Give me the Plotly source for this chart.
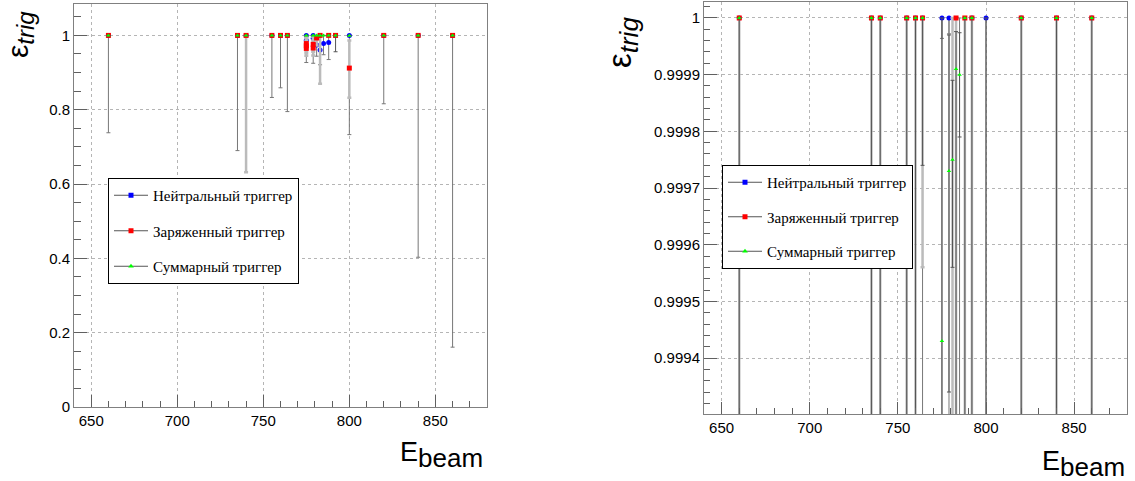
import plotly.graph_objects as go

# ---------------- data ----------------
E_neu = [660, 735, 740, 755, 760, 764, 775, 775, 779, 779, 781, 783, 785, 788, 792, 800, 820, 840, 860]
eff_neu = [1, 1, 1, 1, 1, 1, 1, 0.987, 1, 0.992, 0.974, 0.961, 0.978, 0.981, 1, 1, 1, 1, 1]
lo_neu = [0.262, 0.31, 0.0008, 0.167, 0.141, 0.205, 0.000036, 0.06, 0.000028, 0.067, 0.03, 0.04, 0.03,
          0.046, 0.0008, 0.267, 0.184, 0.597, 0.839]
hi_neu = [0, 0, 0, 0, 0, 0, 0, 0.013, 0, 0.008, 0.026, 0.039, 0.022, 0.019, 0, 0, 0, 0, 0]

E_chg = [660, 735, 740, 755, 760, 764, 775, 775, 775, 779, 779, 781, 783, 788, 792, 800, 820, 840, 860]
eff_chg = [1, 1, 1, 1, 1, 1, 0.965, 0.972, 0.978, 0.966, 0.976, 0.993, 1, 1, 1, 0.912, 1, 1, 1]
lo_chg = [0.0008, 0.0009, 0.368, 0.0008, 0.0008, 0.00044, 0.02, 0.02, 0.02, 0.02, 0.02, 0.02, 0.13,
          0.0008, 0.0008, 0.08, 0.0008, 0.0008, 0.0008]
hi_chg = [0, 0, 0, 0, 0, 0, 0.02, 0.02, 0.02, 0.02, 0.02, 0.007, 0, 0, 0, 0.074, 0, 0, 0]

E_tot = [660, 735, 740, 755, 760, 764, 775, 779, 781, 783, 785, 788, 792, 800, 820, 840, 860]
eff_tot = [1, 1, 1, 1, 1, 1, 0.99943, 0.99973, 0.99975, 0.99991, 0.9999, 1, 1, 0.9988, 1, 1, 1]
lo_tot = [0.0008, 0.0008, 0.0008, 0.0008, 0.0008, 0.00026, 0.0006, 0.00039, 0.00019, 0.0008, 0.00011,
          0.0008, 0.044, 0.001, 0.0008, 0.0008, 0.0008]
hi_tot = [0, 0, 0, 0, 0, 0, 0.00057, 0.00024, 0.00014, 0.000066, 0.000074, 0, 0, 0.0012, 0, 0, 0]

names = ["Нейтральный триггер", "Заряженный триггер", "Суммарный триггер"]

x_ticks = [650, 700, 750, 800, 850]
x_ticktext = ["650", "700", "750", "800", "850"]
yL_ticks = [0, 0.2, 0.4, 0.6, 0.8, 1]
yL_ticktext = ["0", "0.2", "0.4", "0.6", "0.8", "1"]
yR_ticks = [0.9994, 0.9995, 0.9996, 0.9997, 0.9998, 0.9999, 1.0]
yR_ticktext = ["0.9994", "0.9995", "0.9996", "0.9997", "0.9998", "0.9999", "1"]

# ---------------- styles ----------------
W, H = 1135, 481
BLUE, RED, GREEN = "#0000ff", "#ff0000", "#00ff00"
series = [
    (E_neu, eff_neu, lo_neu, hi_neu, BLUE, "circle", 5, "#777777", 1),
    (E_chg, eff_chg, lo_chg, hi_chg, RED, "square", 5, "#bbbbbb", 2.5),
    (E_tot, eff_tot, lo_tot, hi_tot, GREEN, "triangle-up", 4, "#555555", 1),
]

fig = go.Figure()
for xa, ya in [("x", "y"), ("x2", "y2")]:
    for (ex, ey, lo, hi, col, sym, sz, ecol, ew) in series:
        fig.add_trace(go.Scatter(
            x=ex, y=ey, mode="markers", xaxis=xa, yaxis=ya, showlegend=False,
            marker=dict(color=col, symbol=sym, size=sz, line=dict(width=0)),
            error_y=dict(type="data", symmetric=False, array=hi, arrayminus=lo,
                         color=ecol, thickness=ew, width=2),
            cliponaxis=True,
        ))

# legend entries
for leg in ["legend", "legend2"]:
    for i, (ex, ey, lo, hi, col, sym, sz, ecol, ew) in enumerate(series):
        fig.add_trace(go.Scatter(
            x=[None], y=[None], mode="lines+markers", name=names[i],
            xaxis="x" if leg == "legend" else "x2", yaxis="y" if leg == "legend" else "y2",
            line=dict(color="#555555", width=1),
            marker=dict(color=col, symbol="square" if i < 2 else "triangle-up", size=5),
            legend=leg, legendgroup=leg + str(i), showlegend=True,
        ))


def px_x(p):
    return p / W


def px_y(p):
    return 1 - p / H


axis_common = dict(
    showline=True, mirror=True, linecolor="#808080", linewidth=1,
    ticks="inside", tickcolor="#606060", tickwidth=1,
    showgrid=True, griddash="dot", gridcolor="#b5b5b5", gridwidth=1,
    zeroline=False, automargin=False,
    tickfont=dict(family="Liberation Sans", size=15, color="black"),
)

fig.update_layout(
    width=W, height=H, margin=dict(l=0, r=0, t=0, b=0, pad=0, autoexpand=False),
    paper_bgcolor="white", plot_bgcolor="white",
    xaxis=dict(domain=[px_x(74), px_x(487)], range=[640, 880], anchor="y",
               tickvals=x_ticks, ticktext=x_ticktext, ticklen=12,
               minor=dict(dtick=10, tick0=0, ticks="inside", ticklen=6, tickcolor="#606060", showgrid=False),
               **axis_common),
    yaxis=dict(domain=[px_y(407), px_y(4)], range=[0, 1.0845], anchor="x",
               tickvals=yL_ticks, ticktext=yL_ticktext, ticklen=13,
               minor=dict(dtick=0.05, tick0=0, ticks="inside", ticklen=7, tickcolor="#606060", showgrid=False),
               **axis_common),
    xaxis2=dict(domain=[px_x(704), px_x(1127)], range=[640, 880], anchor="y2",
                tickvals=x_ticks, ticktext=x_ticktext, ticklen=12,
                minor=dict(dtick=10, tick0=0, ticks="inside", ticklen=6, tickcolor="#606060", showgrid=False),
                **axis_common),
    yaxis2=dict(domain=[px_y(414), px_y(2)], range=[0.9993012, 1.0000282], anchor="x2",
                tickvals=yR_ticks, ticktext=yR_ticktext, ticklen=13,
                minor=dict(dtick=0.00002, tick0=0.9994, ticks="inside", ticklen=6, tickcolor="#606060", showgrid=False),
                **axis_common),
    legend=dict(x=px_x(108), y=px_y(178), xanchor="left", yanchor="top",
                bordercolor="black", borderwidth=1, bgcolor="white",
                font=dict(family="Liberation Serif", size=15, color="black"),
                tracegroupgap=13, itemwidth=34),
    legend2=dict(x=px_x(722), y=px_y(165), xanchor="left", yanchor="top",
                 bordercolor="black", borderwidth=1, bgcolor="white",
                 font=dict(family="Liberation Serif", size=15, color="black"),
                 tracegroupgap=12, itemwidth=34),
)

title_font = dict(family="Liberation Sans", size=27, color="black")
annots = [
    dict(text='E<sub><span style="font-size:26px">beam</span></sub>', x=px_x(485), y=px_y(455),
         xanchor="right", yanchor="middle"),
    dict(text='E<sub><span style="font-size:26px">beam</span></sub>', x=px_x(1127), y=px_y(464),
         xanchor="right", yanchor="middle"),
]
for a in annots:
    fig.add_annotation(xref="paper", yref="paper", showarrow=False, font=title_font, **a)

ytitles = [
    dict(x=px_x(20), y=px_y(35), size=30),
    dict(x=px_x(622), y=px_y(43), size=33),
]
for t in ytitles:
    fig.add_annotation(xref="paper", yref="paper", showarrow=False, textangle=-90,
                       text='ε<sub><span style="font-size:%dpx"><i>trig</i></span></sub>' % int(t["size"] * 0.8),
                       x=t["x"], y=t["y"], xanchor="center", yanchor="middle",
                       font=dict(family="Liberation Sans", size=t["size"], color="black"))

fig.write_html("out.html", config={"displayModeBar": False},
               post_script="document.body.style.margin='0';document.body.style.overflow='hidden';")
